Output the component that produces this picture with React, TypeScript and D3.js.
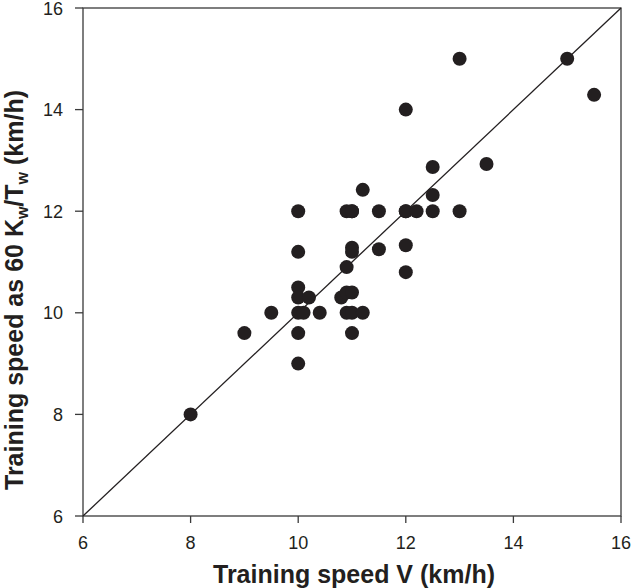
import React from "react";
import * as d3 from "d3";

const speedV: number[] = [8, 9, 9.5, 10, 10, 10, 10, 10, 10, 10, 10.1, 10.2, 10.4, 10.8, 10.9, 10.9, 10.9, 10.9, 11, 11, 11, 11, 11, 11, 11, 11.2, 11.2, 11.5, 11.5, 12, 12, 12, 12, 12, 12.2, 12.5, 12.5, 12.5, 13, 13, 13.5, 15, 15.5];
const speedK: number[] = [8, 9.6, 10, 12, 11.2, 10.5, 10.3, 10, 9.6, 9, 10, 10.3, 10, 10.3, 12, 10.9, 10.4, 10, 12, 11.28, 11.2, 10.4, 10, 9.6, 12, 12.42, 10, 12, 11.25, 12, 14, 11.33, 10.8, 12, 12, 12, 12.87, 12.32, 12, 15, 12.93, 15, 14.29];
const xTicks: number[] = [6, 8, 10, 12, 14, 16];
const yTicks: number[] = [6, 8, 10, 12, 14, 16];

const W = 631;
const H = 588;
const left = 83;
const right = 621;
const top = 8;
const bottom = 516;

export default function App() {
  const x = d3.scaleLinear().domain([6, 16]).range([left, right]);
  const y = d3.scaleLinear().domain([6, 16]).range([bottom, top]);
  const font = "'Liberation Sans', Arial, Helvetica, sans-serif";
  const col = "#231f20";
  const axisCol = "#3a3a3a";
  const points = speedV.map((v, i) => ({ v, k: speedK[i] }));
  const line = d3.line<[number, number]>().x((d) => x(d[0])).y((d) => y(d[1]));
  return (
    <svg width={W} height={H} style={{ position: "absolute", left: 0, top: 0, background: "#fff" }} fontFamily={font}>
      <rect x={0} y={0} width={W} height={H} fill="#fff" />
      <rect x={left} y={top} width={right - left} height={bottom - top} fill="none" stroke={axisCol} strokeWidth={1.3} />
      <path d={line([[6, 6], [16, 16]]) || ""} stroke={col} strokeWidth={1.3} fill="none" />
      {xTicks.map((t) => (
        <g key={"x" + t}>
          <line x1={x(t)} x2={x(t)} y1={bottom} y2={bottom + 7} stroke={axisCol} strokeWidth={1.3} />
          <text x={x(t)} y={bottom + 33} textAnchor="middle" fontSize={18} fill={col}>{t}</text>
        </g>
      ))}
      {yTicks.map((t) => (
        <g key={"y" + t}>
          <line x1={left - 8} x2={left} y1={y(t)} y2={y(t)} stroke={axisCol} strokeWidth={1.3} />
          <text x={left - 20} y={y(t) + 6.5} textAnchor="end" fontSize={18} fill={col}>{t}</text>
        </g>
      ))}
      {points.map((p, i) => (
        <circle key={i} cx={x(p.v)} cy={y(p.k)} r={7} fill={col} />
      ))}
      <text x={354} y={583} textAnchor="middle" fontSize={25} fontWeight="bold" fill={col}>
        Training speed V (km/h)
      </text>
      <text transform="translate(23,290) rotate(-90)" textAnchor="middle" fontSize={25} fontWeight="bold" fill={col}>
        Training speed as 60 K<tspan fontSize={16} dy={5}>w</tspan><tspan dy={-5}>/T</tspan><tspan fontSize={16} dy={5}>w</tspan><tspan dy={-5}>  (km/h)</tspan>
      </text>
    </svg>
  );
}
